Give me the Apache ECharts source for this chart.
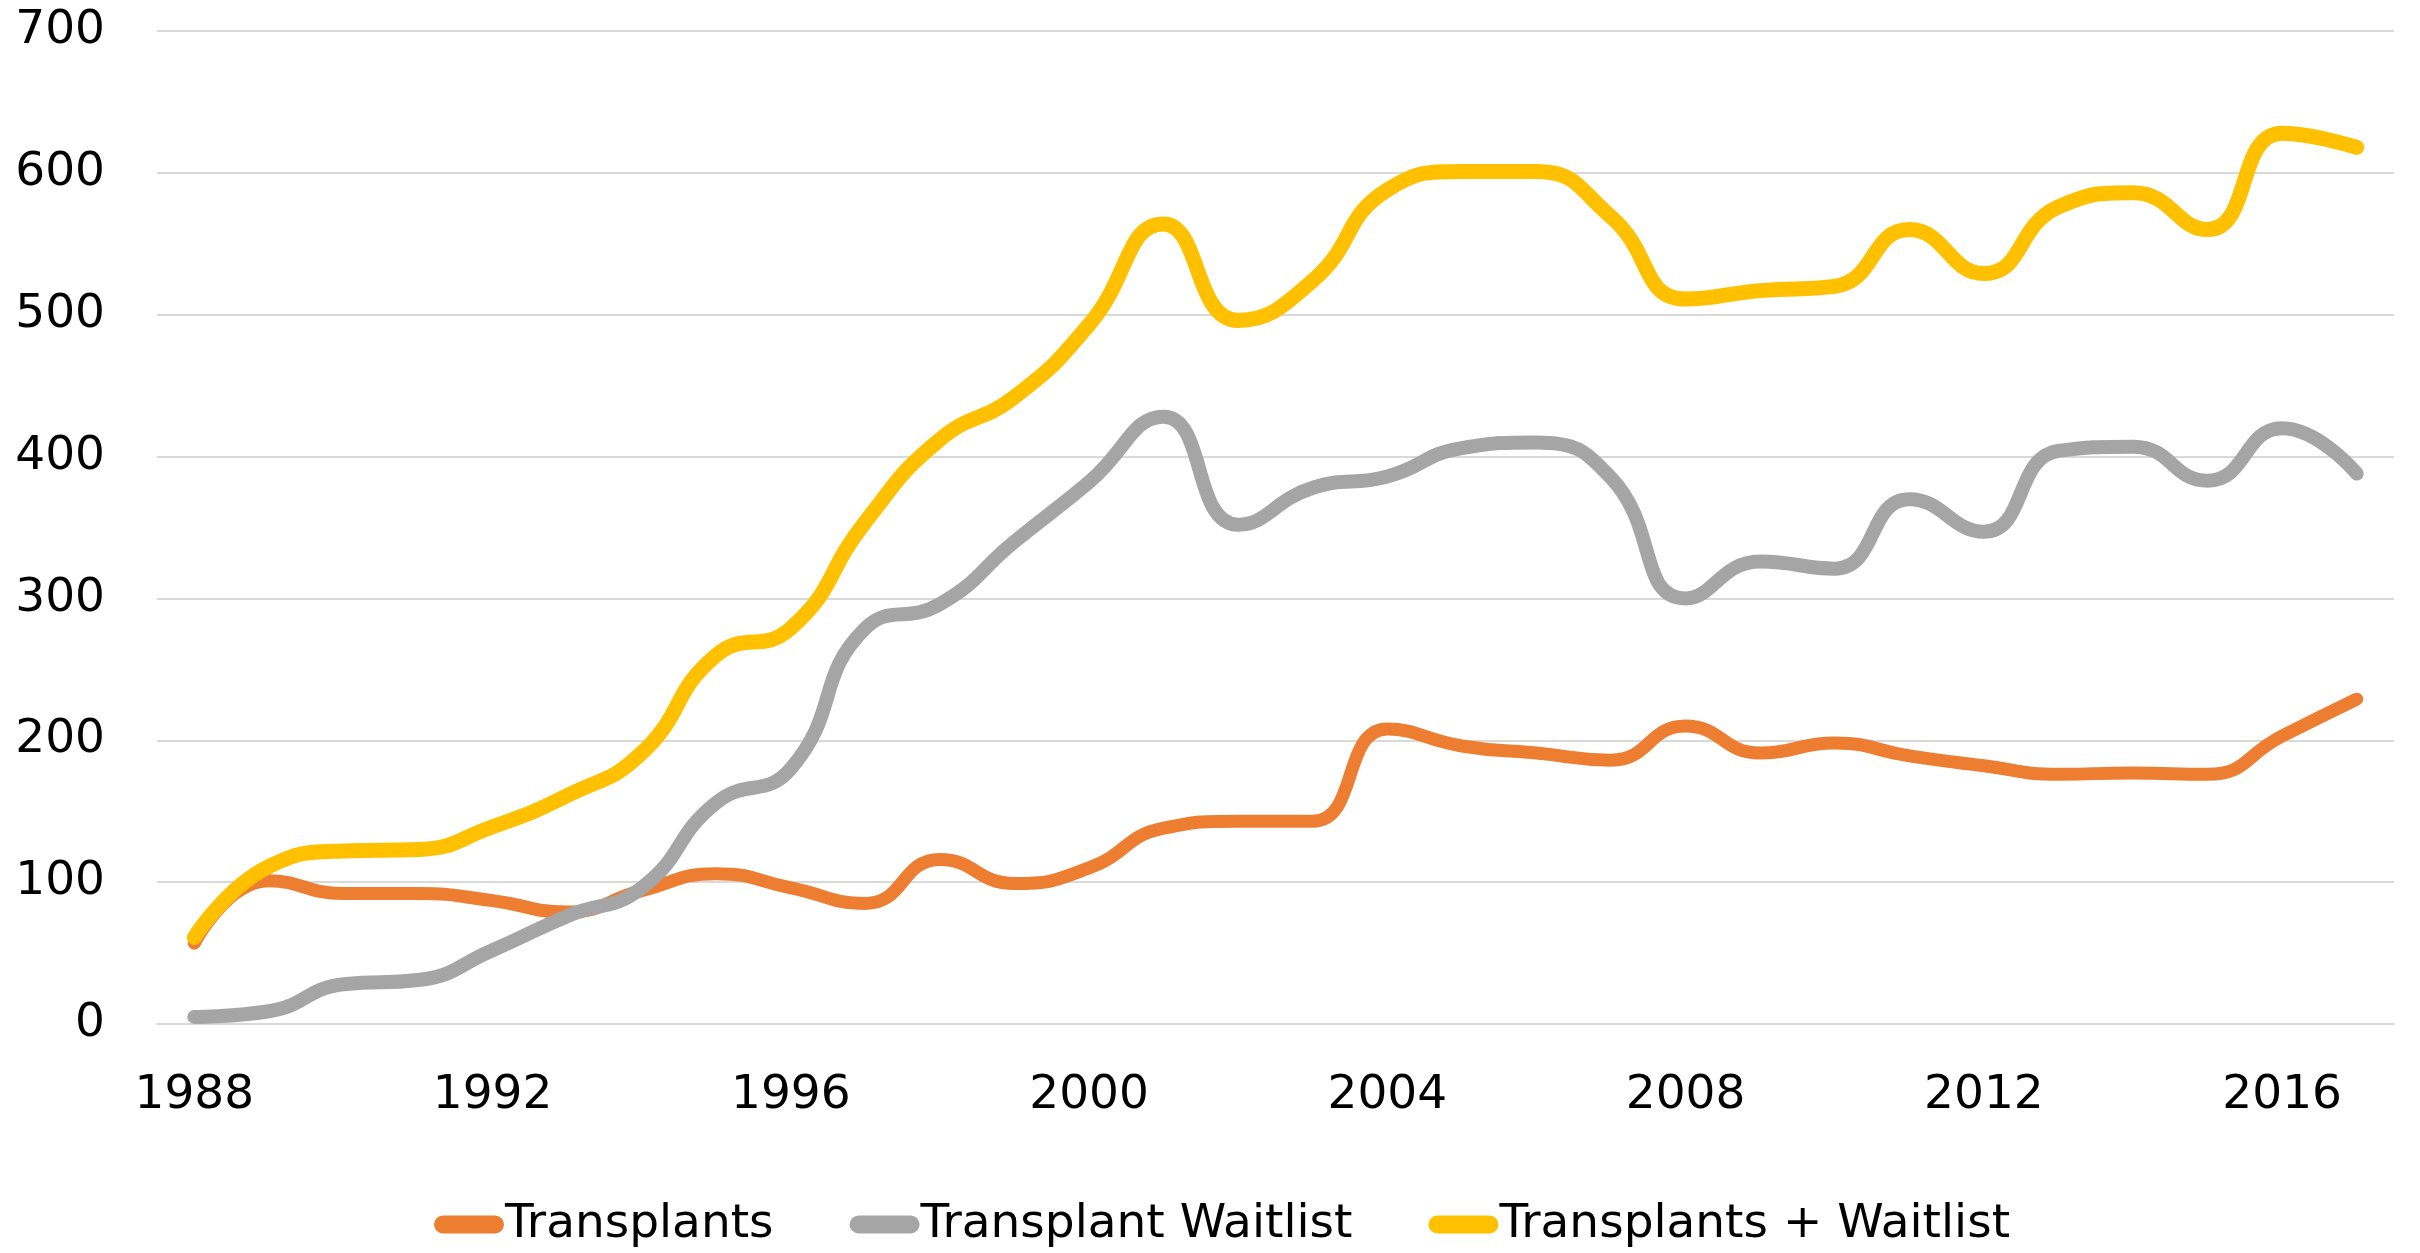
<!DOCTYPE html>
<html>
<head>
<meta charset="utf-8">
<script src="https://cdn.jsdelivr.net/npm/echarts@6/dist/echarts.min.js"></script>
<style>
html,body{margin:0;padding:0;background:#fff;}
#chart{width:2420px;height:1253px;}
</style>
</head>
<body>
<div id="chart"></div>
<script>
const years = ['1988','1989','1990','1991','1992','1993','1994','1995','1996','1997','1998','1999','2000','2001','2002','2003','2004','2005','2006','2007','2008','2009','2010','2011','2012','2013','2014','2015','2016','2017'];
const transplants = [57,101,92,92,87,79,94,106,96,85,116,99,110,138,143,143,208,196,191,186,210,191,198,189,182,176,177,176,203,229];
const waitlist = [5,9,28,31,52,76,96,156,180,279,296,340,382,428,352,378,386,406,410,385,300,326,321,370,347,404,407,383,420,388];
const combined = [61,111,122,123,139,161,191,260,279,354,412,442,493,564,496,524,588,601,601,569,511,517,520,560,529,576,586,560,628,618];
const seriesNames = ['Transplants','Transplant Waitlist','Transplants + Waitlist'];
const colors = ['#ED7D31','#A5A5A5','#FFC000'];

const chart = echarts.init(document.getElementById('chart'));
const font = '"DejaVu Sans", "Liberation Sans", Arial, sans-serif';
const capsule = 'path://M9,0 L61,0 A9,9 0 0 1 61,18 L9,18 A9,9 0 0 1 9,0 Z';
const mk = (name, data, color, w) => ({
  name, type:'line', data, smooth:0.5, symbol:'none',
  lineStyle:{color, width:w, cap:'round', join:'round'},
  itemStyle:{color}
});
chart.setOption({
  animation:false,
  backgroundColor:'#fff',
  grid:{left:157,right:26,top:31,bottom:229},
  xAxis:{
    type:'category', data:years, boundaryGap:true,
    axisLine:{show:true,lineStyle:{color:'#D9D9D9',width:2}},
    axisTick:{show:false},
    axisLabel:{interval:3,margin:48,fontSize:47,color:'#000',fontFamily:font}
  },
  yAxis:{
    type:'value', min:0, max:700, interval:100,
    axisLine:{show:false}, axisTick:{show:false},
    splitLine:{lineStyle:{color:'#D9D9D9',width:2}},
    axisLabel:{margin:52,fontSize:47,color:'#000',fontFamily:font}
  },
  legend:{
    data:seriesNames, left:429, top:1196,
    icon:capsule, itemWidth:70, itemHeight:18, itemGap:76,
    textStyle:{fontSize:47,color:'#000',fontFamily:font,padding:[0,0,0,-4]}
  },
  series:[
    mk(seriesNames[0], transplants, colors[0], 13),
    mk(seriesNames[1], waitlist, colors[1], 14),
    mk(seriesNames[2], combined, colors[2], 15)
  ]
});
</script>
</body>
</html>
